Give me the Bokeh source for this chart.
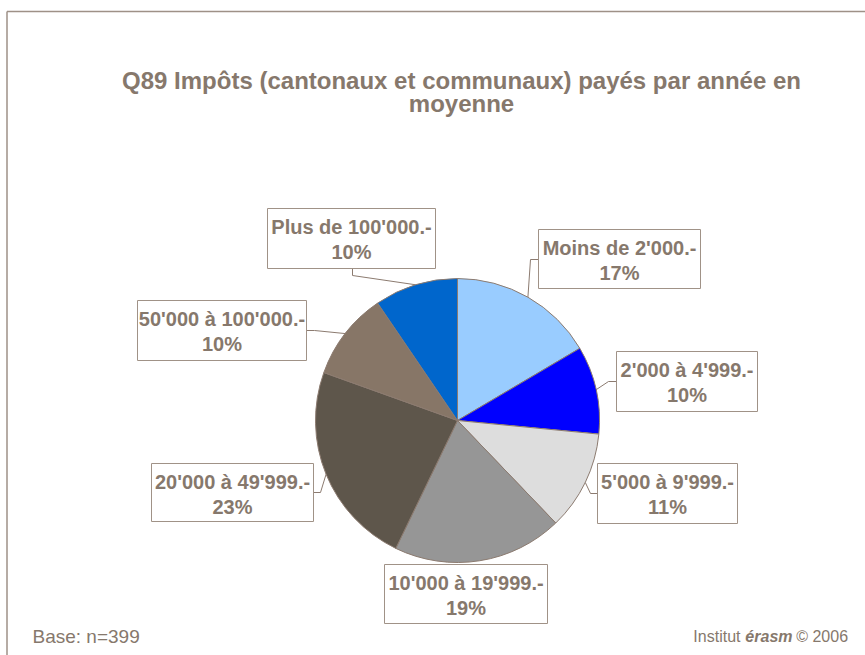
import math
from bokeh.plotting import figure
from bokeh.models import ColumnDataSource, Range1d
from bokeh.core.properties import value
from bokeh.embed import file_html
from bokeh.resources import INLINE

# ---- data ----
categories = ["Moins de 2'000.-", "2'000 à 4'999.-", "5'000 à 9'999.-",
              "10'000 à 19'999.-", "20'000 à 49'999.-", "50'000 à 100'000.-",
              "Plus de 100'000.-"]
shares = [16.5, 10.0, 11.3, 19.3, 23.3, 10.0, 9.5]
pct_labels = ["17%", "10%", "11%", "19%", "23%", "10%", "10%"]
colors = ["#99CCFF", "#0000FF", "#DDDDDD", "#969696", "#5E564B", "#877667", "#0066CC"]

title_lines = ["Q89 Impôts (cantonaux et communaux) payés par année en", "moyenne"]
base_text = "Base: n=399"

# ---- layout (screen pixels) ----
W, H = 865, 655
def X(sx): return sx
def Y(sy): return H - sy

CX, CY, R = 457, 420, 142
# label boxes: left, right, top, bottom
boxes = [(538, 700, 229, 288), (616, 757, 351, 411), (597, 737, 463, 523),
         (384, 547, 564, 623), (151, 313, 463, 521), (137, 306, 300, 360),
         (267, 435, 208, 268)]
# leader elbow + attach points
leaders = [((530, 259), (538, 259)), ((608, 381), (616, 381)), ((590, 493), (597, 493)),
           (None, None), ((320, 492), (313, 492)), ((314, 330), (306, 330)),
           ((352, 275), (352, 268))]

TXT = "#86786C"
EDGE = "#8C7B70"
BOX = "#A09287"
FONT = value("Liberation Sans")

p = figure(width=W, height=H, output_backend="svg", toolbar_location=None,
           x_range=Range1d(0, W), y_range=Range1d(0, H), min_border=0,
           x_axis_location=None, y_axis_location=None)
p.grid.visible = False
p.outline_line_color = None
p.background_fill_color = "white"

# frame lines
p.line([6.5, 6.5], [0, Y(11)], line_color="#9E9187", line_width=1.5)
p.line([6.5, W], [Y(11), Y(11)], line_color="#9E9187", line_width=1.5)

# pie
total = sum(shares)
starts, ends, mids = [], [], []
cum = 0.0
for s in shares:
    a0 = cum / total
    cum += s
    a1 = cum / total
    starts.append(math.pi / 2 - 2 * math.pi * a1)
    ends.append(math.pi / 2 - 2 * math.pi * a0)
    mids.append((a0 + a1) / 2)

src = ColumnDataSource(dict(x=[X(CX)] * len(shares), y=[Y(CY)] * len(shares),
                            start=starts, end=ends, color=colors))
p.wedge(x="x", y="y", radius=R, start_angle="start", end_angle="end",
        direction="anticlock", fill_color="color", line_color=EDGE, line_width=1,
        source=src)

# leader lines
xs, ys = [], []
for m, (elbow, attach) in zip(mids, leaders):
    ang = 2 * math.pi * m
    px = CX + R * math.sin(ang)
    py = CY - R * math.cos(ang)
    if elbow is None:
        continue
    xs.append([X(px), X(elbow[0]), X(attach[0])])
    ys.append([Y(py), Y(elbow[1]), Y(attach[1])])
p.multi_line(xs, ys, line_color=EDGE, line_width=1)

# label boxes
bx = [X((b[0] + b[1]) / 2) for b in boxes]
by = [Y((b[2] + b[3]) / 2) for b in boxes]
bw = [b[1] - b[0] for b in boxes]
bh = [b[3] - b[2] for b in boxes]
p.rect(bx, by, bw, bh, fill_color="white", line_color=BOX, line_width=1)

l1y = [Y(b[2] + 18) for b in boxes]
l2y = [Y(b[2] + 43) for b in boxes]
p.text(bx, l1y, text=categories, text_font=FONT, text_font_style="bold",
       text_font_size="20px", text_color=TXT, text_align="center", text_baseline="middle")
p.text(bx, l2y, text=pct_labels, text_font=FONT, text_font_style="bold",
       text_font_size="20px", text_color=TXT, text_align="center", text_baseline="middle")

# title
p.text([X(461), X(461)], [Y(80), Y(103)], text=title_lines, text_font=FONT,
       text_font_style="bold", text_font_size="24px", text_color=TXT,
       text_align="center", text_baseline="middle")

# footer
p.text([X(32)], [Y(636)], text=[base_text], text_font=FONT, text_font_size="19px",
       text_color=TXT, text_align="left", text_baseline="middle")
p.text([X(852)], [Y(636)], text=["©  2006"], text_font=FONT, text_font_size="16px",
       text_color=TXT, text_align="right", text_baseline="middle")
p.text([X(792)], [Y(636)], text=["érasm"], text_font=FONT, text_font_size="16px",
       text_font_style="bold italic", text_color=TXT, text_align="right", text_baseline="middle")
p.text([X(740)], [Y(636)], text=["Institut"], text_font=FONT, text_font_size="16px",
       text_color=TXT, text_align="right", text_baseline="middle")

open("out.html", "w").write(file_html(p, INLINE))
